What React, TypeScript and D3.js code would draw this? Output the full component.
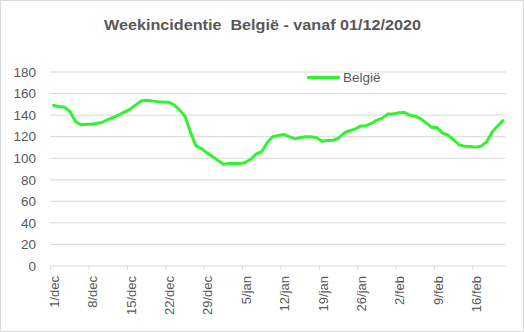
import React from "react";
import * as d3 from "d3";

const W = 524;
const H = 332;

const title = "Weekincidentie  België - vanaf 01/12/2020";
const seriesName = "België";
const startDate = new Date(2020, 11, 1);
const monthNames = ["jan", "feb", "mrt", "apr", "mei", "jun", "jul", "aug", "sep", "okt", "nov", "dec"];

const values: number[] = [
  149, 148, 147.5, 143.5, 134, 131, 131.5, 131.5, 132.5, 133.5,
  136, 138, 140.5, 143, 145.5, 149.5, 153, 153.8, 153.2, 152.5,
  152.2, 152, 149.5, 144.8, 139, 124, 111.5, 109, 105, 101.6,
  98, 94.5, 95, 95, 95, 96, 99, 104, 106, 114.5,
  120, 121, 122, 120, 118, 119, 120, 120, 119, 115.8,
  116.5, 116.7, 118.5, 123.4, 125.5, 127, 129.8, 130.2, 132.3, 135.4,
  137.2, 141, 141, 142.2, 142.5, 139.8, 139, 136.5, 132.5, 128.6,
  128.4, 123.3, 121.3, 117, 112.5, 111, 110.8, 110.3, 111.2, 115,
  124, 129.8, 135,
];

const categories: Date[] = d3.timeDay.range(startDate, d3.timeDay.offset(startDate, values.length));
const yTicks = [0, 20, 40, 60, 80, 100, 120, 140, 160, 180];

const fmt = (d: Date) => `${d.getDate()}/${monthNames[d.getMonth()]}`;

export default function App() {
  const left = 50.7, right = 505.7, top = 72, bottom = 266;
  const x = d3.scaleBand<number>().domain(categories.map((_, i) => i)).range([left, right]).padding(0);
  const y = d3.scaleLinear().domain([0, 180]).range([bottom, top]);
  const cx = (i: number) => (x(i) as number) + x.bandwidth() / 2;
  const line = d3.line<number>().x((_, i) => cx(i)).y((v) => y(v));
  const labelIdx = categories.map((_, i) => i).filter((i) => i % 7 === 0);
  const textColor = "#595959";
  const font = "'Liberation Sans', Arial, sans-serif";

  return (
    <svg width={W} height={H} style={{ position: "absolute", left: 0, top: 0, background: "#fff" }} fontFamily={font}>
      <rect x={0.5} y={0.5} width={W - 1} height={H - 1} fill="#fff" stroke="#d9d9d9" />
      <text x={104} y={29.5} fontSize={15} fontWeight="bold" fill={textColor} textLength={317} lengthAdjust="spacingAndGlyphs" style={{ whiteSpace: "pre" }}>{title}</text>
      {yTicks.map((t) => (
        <g key={t}>
          <line x1={left - 0.7} x2={right} y1={y(t)} y2={y(t)} stroke="#d9d9d9" strokeWidth={1} />
          <text x={36} y={y(t)} dy="0.35em" textAnchor="end" fontSize={13.5} fill={textColor}>{t}</text>
        </g>
      ))}
      {labelIdx.map((i) => (
        <g key={i}>
          <line x1={x(i) as number} x2={x(i) as number} y1={bottom} y2={bottom + 4} stroke="#d9d9d9" />
          <text transform={`translate(${cx(i) + 1},${bottom + 10}) rotate(-90)`} dy="0.35em" textAnchor="end" fontSize={13} fill={textColor}>{fmt(categories[i])}</text>
        </g>
      ))}
      <path d={line(values) || ""} fill="none" stroke="#2ef52e" strokeWidth={3} strokeLinejoin="round" strokeLinecap="round" />
      <line x1={307} x2={340} y1={77.5} y2={77.5} stroke="#2ef52e" strokeWidth={3} />
      <text x={343} y={77.5} dy="0.35em" fontSize={13.5} fill={textColor}>{seriesName}</text>
    </svg>
  );
}
